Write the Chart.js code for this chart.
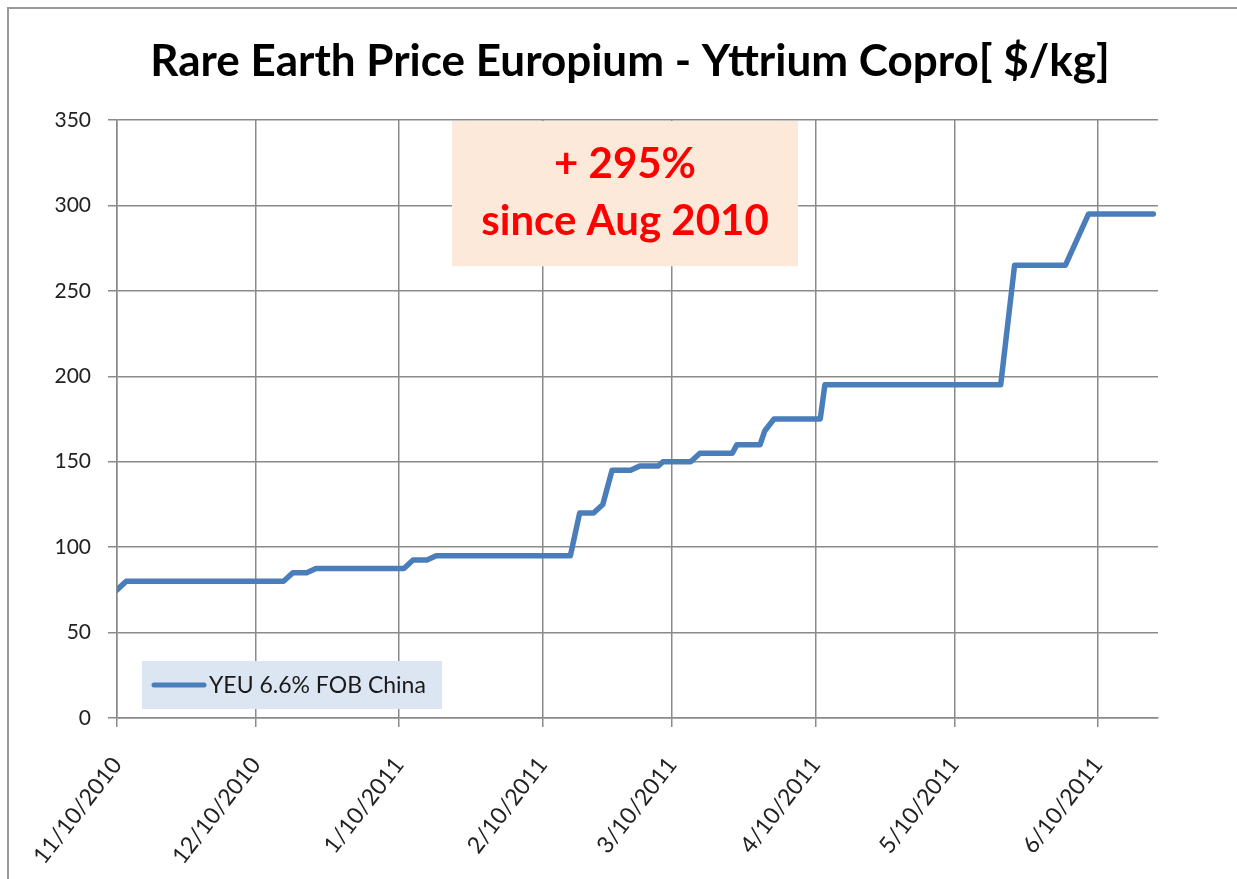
<!DOCTYPE html>
<html>
<head>
<meta charset="utf-8">
<script src="https://cdn.jsdelivr.net/npm/chart.js@4/dist/chart.umd.min.js"></script>
<style>
  html, body { margin: 0; background: #fff; overflow: hidden; }
  #wrap { width: 1237px; height: 879px; }
</style>
</head>
<body>
<div id="wrap"><canvas id="myChart" width="1237" height="879"></canvas></div>
<script>
// Data
var startDate = '2010-11-10';
var endDate = '2011-06-23';
var priceDates = [
    '2010-11-10', '2010-11-12', '2010-12-16', '2010-12-18', '2010-12-21', '2010-12-23',
    '2011-01-11', '2011-01-13', '2011-01-16', '2011-01-18', '2011-02-16', '2011-02-18',
    '2011-02-21', '2011-02-23', '2011-02-25', '2011-03-01', '2011-03-03', '2011-03-07',
    '2011-03-08', '2011-03-14', '2011-03-16', '2011-03-23', '2011-03-24', '2011-03-29',
    '2011-03-30', '2011-04-01', '2011-04-11', '2011-04-12', '2011-05-20', '2011-05-23',
    '2011-06-03', '2011-06-08', '2011-06-22'
];
var priceValues = [
    75, 80, 80, 85, 85, 87.5,
    87.5, 92.5, 92.5, 95, 95, 120,
    120, 125, 145, 145, 147.5, 147.5,
    150, 150, 155, 155, 160, 160,
    168, 175, 175, 195, 195, 265,
    265, 295, 295
];
var tickDates = ['2010-11-10', '2010-12-10', '2011-01-10', '2011-02-10',
                 '2011-03-10', '2011-04-10', '2011-05-10', '2011-06-10'];
var tickLabels = ['11/10/2010', '12/10/2010', '1/10/2011', '2/10/2011',
                  '3/10/2011', '4/10/2011', '5/10/2011', '6/10/2011'];
var seriesLabel = 'YEU 6.6% FOB China';
var chartTitle = 'Rare Earth Price Europium - Yttrium Copro[ $/kg]';
var noteLines = ['+ 295%', 'since Aug 2010'];

function dayOf(s) {
    return (Date.parse(s) - Date.parse(startDate)) / 86400000;
}

var points = priceDates.map(function (d, i) { return {x: dayOf(d), y: priceValues[i]}; });
var tickDays = tickDates.map(dayOf);

var gridGrey = '#8a8a8a';

// frame, title, note box and inline legend
var extras = {
    id: 'extras',
    beforeDraw: function (chart) {
        var c = chart.ctx;
        c.save();
        c.strokeStyle = '#9a9a9a';
        c.lineWidth = 2;
        c.beginPath();
        c.moveTo(8, 879);
        c.lineTo(8, 8);
        c.lineTo(1237, 8);
        c.stroke();
        c.fillStyle = '#000';
        c.font = 'bold 44px Lato';
        c.textAlign = 'center';
        c.textBaseline = 'middle';
        c.fillText(chartTitle, 630, 62);
        c.restore();
    },
    beforeDatasetsDraw: function (chart) {
        var c = chart.ctx, xs = chart.scales.x, ys = chart.scales.y;
        var l = xs.getPixelForValue(72.4), r = xs.getPixelForValue(147.2);
        var t = ys.getPixelForValue(350), b = ys.getPixelForValue(265);
        c.save();
        c.fillStyle = '#fde9d9';
        c.fillRect(l, t + 1, r - l, b - t);
        c.fillStyle = '#ff0000';
        c.font = 'bold 42px Lato';
        c.textAlign = 'center';
        c.textBaseline = 'middle';
        c.fillText(noteLines[0], (l + r) / 2, t + 44);
        c.fillText(noteLines[1], (l + r) / 2, t + 101);
        c.restore();
    },
    afterDraw: function (chart) {
        var c = chart.ctx, ds = chart.data.datasets[0];
        var xs = chart.scales.x, ys = chart.scales.y;
        var l = xs.left + 25, b = ys.bottom - 9;
        c.save();
        c.fillStyle = '#dce6f2';
        c.fillRect(l, b - 48, 300, 48);
        c.strokeStyle = ds.borderColor;
        c.lineWidth = 5;
        c.lineCap = 'round';
        c.beginPath();
        c.moveTo(l + 12, b - 24);
        c.lineTo(l + 62, b - 24);
        c.stroke();
        c.fillStyle = '#1a1a1a';
        c.font = '23px Lato';
        c.textBaseline = 'middle';
        c.fillText(ds.label, l + 67, b - 23);
        c.restore();
    }
};

var ctx = document.getElementById('myChart');
var myChart = new Chart(ctx, {
    type: 'line',
    data: {
        datasets: [{
            label: seriesLabel,
            data: points,
            borderColor: '#4a7ebb',
            borderWidth: 5.5,
            pointRadius: 0,
            tension: 0,
            borderJoinStyle: 'round',
            borderCapStyle: 'round'
        }]
    },
    options: {
        responsive: false,
        animation: false,
        events: [],
        layout: { padding: { left: 0, right: 79, top: 120, bottom: 0 } },
        plugins: {
            legend: { display: false },
            tooltip: { enabled: false },
            title: { display: false }
        },
        scales: {
            x: {
                type: 'linear',
                min: 0,
                max: dayOf(endDate),
                afterFit: function (s) { s.height = 161; },
                afterBuildTicks: function (s) {
                    s.ticks = tickDays.map(function (v) { return {value: v}; });
                },
                grid: { color: gridGrey, lineWidth: 1.5, tickLength: 9 },
                border: { color: gridGrey, width: 1.5 },
                ticks: {
                    autoSkip: false,
                    minRotation: 52,
                    maxRotation: 52,
                    padding: 25,
                    color: '#222',
                    font: { family: 'Lato', size: 23 },
                    callback: function (value, index) { return tickLabels[index]; }
                }
            },
            y: {
                min: 0,
                max: 350,
                afterFit: function (s) { s.width = 117; },
                grid: { color: gridGrey, lineWidth: 1.5, tickLength: 9 },
                border: { color: gridGrey, width: 1.5 },
                ticks: {
                    stepSize: 50,
                    padding: 17,
                    color: '#222',
                    font: { family: 'Lato', size: 21 }
                }
            }
        }
    },
    plugins: [extras]
});
</script>
</body>
</html>
